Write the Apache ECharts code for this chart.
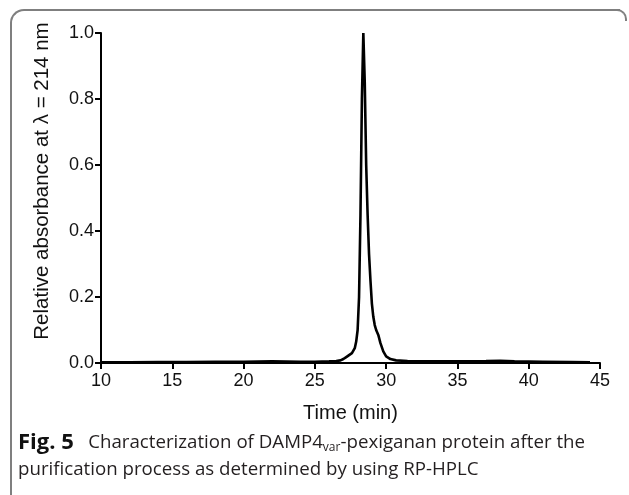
<!DOCTYPE html>
<html>
<head>
<meta charset="utf-8">
<script src="https://cdn.jsdelivr.net/npm/echarts@6/dist/echarts.min.js"></script>
<style>
  html, body { margin: 0; padding: 0; background: #fff; }
  #wrap { position: relative; width: 629px; height: 495px; overflow: hidden; }
  #chart { position: absolute; left: 0; top: 0; width: 629px; height: 495px; }
  .frame { position: absolute; border-color: #7f7f7f; border-style: solid; box-sizing: border-box; }
  #frameMain { left: 10px; top: 9px; width: 610px; height: 500px; border-width: 2px 0 0 2px; border-top-left-radius: 14px; }
  #frameCorner { left: 606px; top: 9px; width: 21px; height: 12px; border-width: 2px 2px 0 0; border-top-right-radius: 10px; }
</style>
</head>
<body>
<div id="wrap">
  <div class="frame" id="frameMain"></div>
  <div class="frame" id="frameCorner"></div>
  <div id="chart"></div>
</div>
<script>
// retention time (min) and relative absorbance
const times = [10, 12, 14, 16, 18, 20, 22, 24, 25, 26, 26.5, 26.8, 27.0, 27.2, 27.4, 27.5, 27.6, 27.7, 27.8, 27.9,
  28.0, 28.1, 28.2, 28.3, 28.4, 28.5, 28.6, 28.7, 28.8, 28.9, 29.0, 29.1, 29.2, 29.3, 29.35, 29.4, 29.45,
  29.6, 29.8, 30.0, 30.3, 30.7, 31.5, 33, 35, 37, 38, 39, 41, 43, 44.3]
const absorbance = [0.002, 0.002, 0.003, 0.003, 0.004, 0.004, 0.005, 0.004, 0.004, 0.005, 0.006, 0.008, 0.012, 0.018, 0.024, 0.028, 0.03, 0.035, 0.045, 0.065,
  0.1, 0.2, 0.45, 0.8, 1.0, 0.85, 0.6, 0.45, 0.33, 0.25, 0.18, 0.14, 0.115, 0.1, 0.095, 0.1, 0.085,
  0.06, 0.035, 0.02, 0.012, 0.008, 0.006, 0.005, 0.005, 0.006, 0.007, 0.005, 0.004, 0.003, 0.002]

const xTicks = [10, 15, 20, 25, 30, 35, 40, 45]
const yTicks = ['0.0', '0.2', '0.4', '0.6', '0.8', '1.0']

const axisFont = 'Liberation Sans, Arial, sans-serif'
const capFont = 'Open Sans, Noto Sans, sans-serif'

const chart = echarts.init(document.getElementById('chart'), null, { renderer: 'canvas' })

chart.setOption({
  animation: false,
  grid: {
    left: 101,
    right: 29,
    top: 33,
    bottom: 132
  },
  xAxis: {
    type: 'value',
    min: xTicks[0],
    max: xTicks[xTicks.length - 1],
    interval: 5,
    name: 'Time (min)',
    nameLocation: 'middle',
    nameGap: 40,
    nameTextStyle: { fontFamily: axisFont, fontSize: 20, color: '#111' },
    axisLine: { show: true, lineStyle: { color: '#000', width: 2 } },
    axisTick: { show: true, length: 6, lineStyle: { color: '#000', width: 2 } },
    axisLabel: { fontFamily: axisFont, fontSize: 18, color: '#111', margin: 9 },
    splitLine: { show: false }
  },
  yAxis: {
    type: 'value',
    min: 0,
    max: 1,
    interval: 0.2,
    name: 'Relative absorbance at λ = 214 nm',
    nameLocation: 'middle',
    nameGap: 48,
    // name sits a little above the axis middle in the original
    nameTextStyle: { fontFamily: axisFont, fontSize: 20.5, color: '#111', padding: [0, 0, 0, 34] },
    axisLine: { show: true, onZero: false, lineStyle: { color: '#000', width: 2 } },
    axisTick: { show: true, length: 6, lineStyle: { color: '#000', width: 2 } },
    axisLabel: {
      fontFamily: axisFont, fontSize: 18, color: '#111', margin: 7,
      formatter: v => yTicks[Math.round(v / 0.2)]
    },
    splitLine: { show: false }
  },
  series: [{
    type: 'line',
    data: times.map((t, i) => [t, absorbance[i]]),
    showSymbol: false,
    smooth: false,
    lineStyle: { color: '#000', width: 2.6 }
  }],
  graphic: [
    {
      type: 'text',
      left: 18,
      top: 431,
      style: {
        text: '{b|Fig. 5}   {t|Characterization of DAMP4}{s|var}{t|-pexiganan protein after the}\n{t|purification process as determined by using RP-HPLC}',
        fontFamily: capFont,
        fontSize: 18.5,
        fill: '#231f20',
        rich: {
          b: { fontFamily: capFont, fontSize: 22, fontWeight: 'bold', fill: '#111', lineHeight: 27 },
          t: { fontFamily: capFont, fontSize: 18.7, fill: '#231f20', lineHeight: 27 },
          s: { fontFamily: capFont, fontSize: 12, fill: '#231f20', lineHeight: 27, padding: [11, 0, 0, 0] }
        }
      }
    }
  ]
})
</script>
</body>
</html>
